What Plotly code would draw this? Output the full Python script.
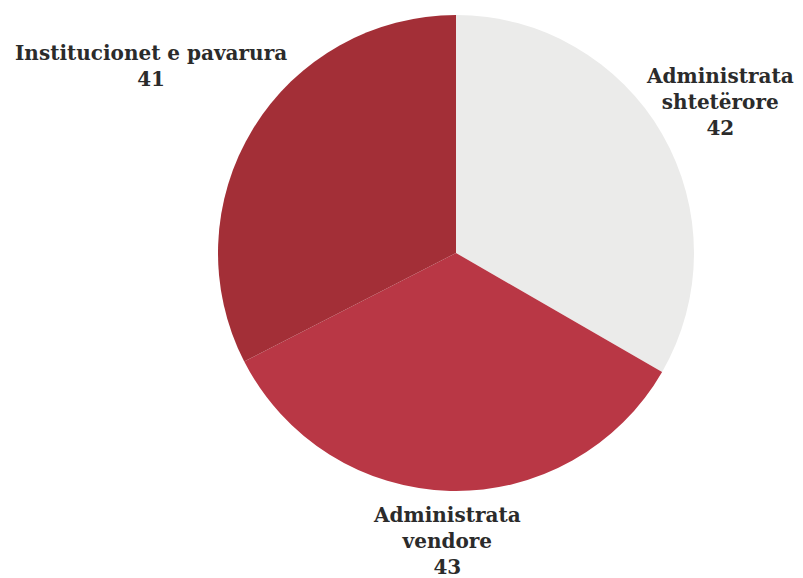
import plotly.graph_objects as go

labels = ["Administrata<br>shtetërore", "Administrata<br>vendore", "Institucionet e pavarura"]
values = [42, 43, 41]
colors = ["#ebebea", "#b93745", "#a32f37"]
# label centres in paper fractions
label_x = [720 / 803, 447 / 803, 151 / 803]
label_y = [1 - 102 / 578, 1 - 541 / 578, 1 - 66 / 578]

W, H = 803, 578
cx, cy, r = 456, 253, 238

fig = go.Figure(go.Pie(
    labels=labels,
    values=values,
    sort=False,
    direction="clockwise",
    rotation=0,
    marker=dict(colors=colors, line=dict(width=0)),
    textinfo="none",
    textposition="none",
    showlegend=False,
    hoverinfo="label+value",
    domain=dict(x=[(cx - r) / W, (cx + r) / W], y=[1 - (cy + r) / H, 1 - (cy - r) / H]),
))
for lab, val, x, y in zip(labels, values, label_x, label_y):
    fig.add_annotation(
        text=f"{lab}<br>{val}", x=x, y=y, xref="paper", yref="paper",
        xanchor="center", yanchor="middle", showarrow=False, align="center",
        font=dict(family="DejaVu Serif", size=20, color="#2b2b2b", weight="bold"),
    )
fig.update_layout(
    width=W, height=H,
    margin=dict(l=0, r=0, t=0, b=0),
    paper_bgcolor="white",
    plot_bgcolor="white",
)
fig.write_html("out.html")
